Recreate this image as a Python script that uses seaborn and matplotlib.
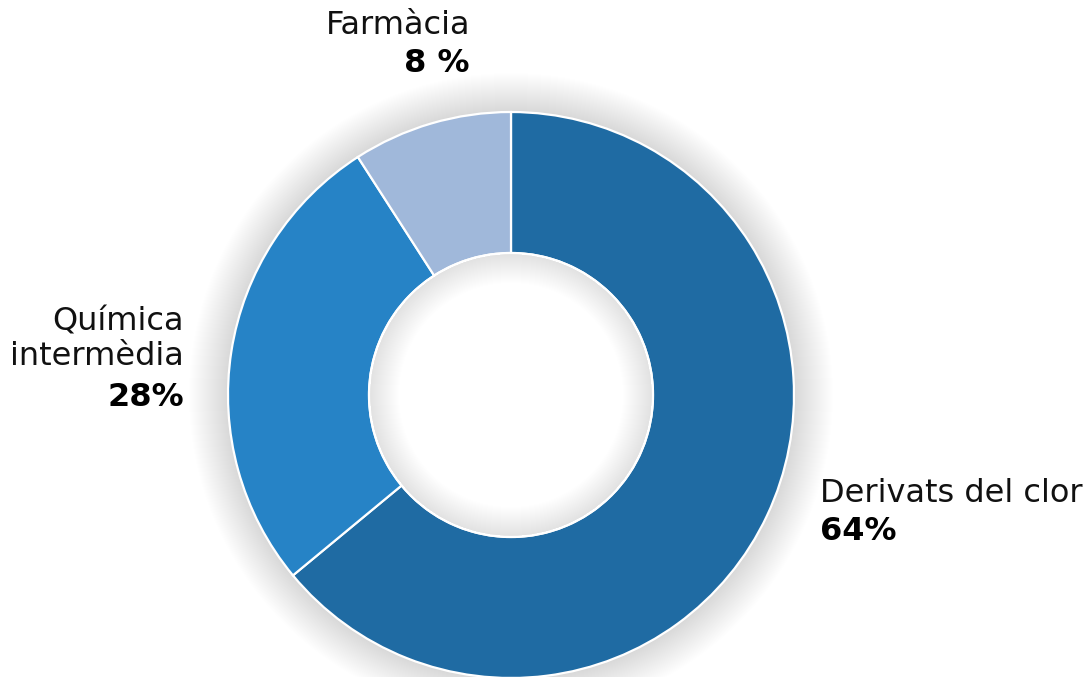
import matplotlib
matplotlib.use("Agg")
import matplotlib.pyplot as plt
from matplotlib.patches import Circle, Wedge
import seaborn as sns

# Data (clockwise from the top)
categories = ["Derivats del clor", "Química\nintermèdia", "Farmàcia"]
shares = [64.0, 26.9, 9.1]
pct_labels = ["64%", "28%", "8 %"]
colors = ["#1f6ba3", "#2683c6", "#a0b8da"]

sns.set_theme(style="white")
plt.rcParams['font.family'] = ['DejaVu Sans']

W, H = 1088, 677
fig = plt.figure(figsize=(W / 100, H / 100), dpi=100)
ax = fig.add_axes([0, 0, 1, 1])

cx, cy = 511, H - 395
r_out, r_in = 283, 142

# soft outer shadow
for i in range(1, 40):
    ax.add_patch(Wedge((cx, cy), r_out + i, 0, 360, width=i,
                       facecolor='black', edgecolor='none', alpha=0.0035, zorder=1))

ax.pie(shares, colors=colors, startangle=90, counterclock=False,
       center=(cx, cy), radius=r_out, frame=True,
       wedgeprops=dict(width=r_out - r_in, edgecolor='white', linewidth=1.6, zorder=2))
ax.set_xlim(0, W)
ax.set_ylim(0, H)
ax.set_aspect('equal')
ax.axis('off')

# inner shadow inside the hole
for i in range(1, 30):
    ax.add_patch(Wedge((cx, cy), r_in - 1, 0, 360, width=i,
                       facecolor='black', edgecolor='none', alpha=0.0025, zorder=3))
ax.add_patch(Circle((cx, cy), r_in, facecolor='none', edgecolor='white', lw=1.6, zorder=4))

# labels: (x, y name, y pct, ha)
label_pos = [(820, 494, 531, 'left'), (184, 339, 397, 'right'), (470, 26, 64, 'right')]
for name, pct, (x, yn, yp, ha) in zip(categories, pct_labels, label_pos):
    ax.text(x, H - yn, name, ha=ha, va='center', fontsize=23, color='#111111',
            linespacing=1.13)
    ax.text(x, H - yp, pct, ha=ha, va='center', fontsize=23, fontweight='bold',
            color='black')

fig.savefig("out.png", dpi=100)
